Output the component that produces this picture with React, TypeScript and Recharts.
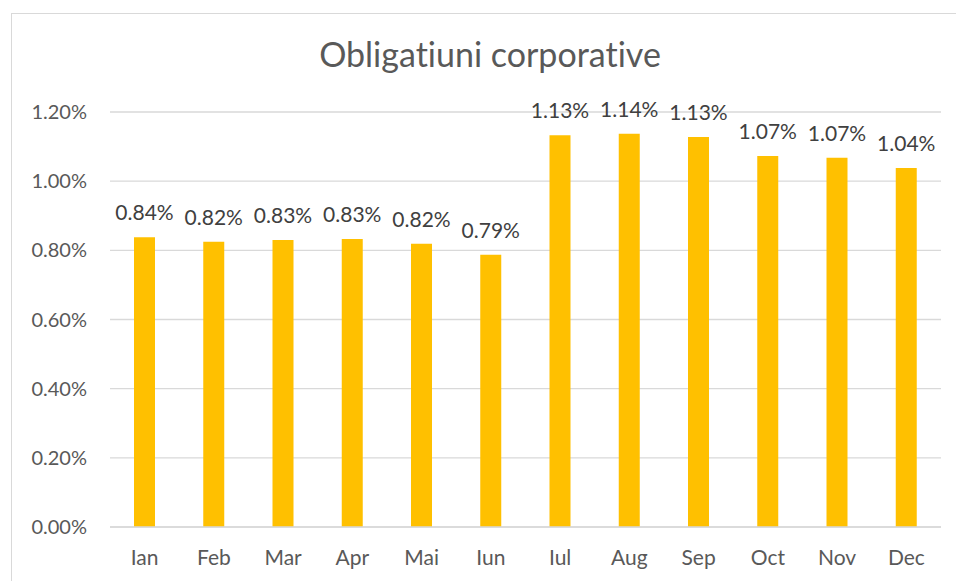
import React from "react";
import { BarChart, Bar, XAxis, YAxis, CartesianGrid, LabelList } from "recharts";

const months = ["Ian", "Feb", "Mar", "Apr", "Mai", "Iun", "Iul", "Aug", "Sep", "Oct", "Nov", "Dec"];
const values = [0.838, 0.825, 0.83, 0.833, 0.819, 0.787, 1.133, 1.137, 1.128, 1.073, 1.068, 1.038];
const labels = ["0.84%", "0.82%", "0.83%", "0.83%", "0.82%", "0.79%", "1.13%", "1.14%", "1.13%", "1.07%", "1.07%", "1.04%"];
const yTicks = [0, 0.2, 0.4, 0.6, 0.8, 1.0, 1.2];
const title = "Obligatiuni corporative";

const data = months.map((m, i) => ({ month: m, value: values[i], label: labels[i] }));

const FONT = "Lato, 'Open Sans', sans-serif";

export default function App() {
  return (
    <div
      style={{
        position: "absolute",
        left: 0,
        top: 0,
        width: 956,
        height: 581,
        background: "#fff",
        fontFamily: FONT,
        overflow: "hidden",
        fontVariantLigatures: "none",
      }}
    >
      <div style={{ position: "absolute", left: 11, top: 13, width: 960, height: 600, border: "1px solid #d9d9d9", boxSizing: "border-box" }} />
      <svg width={956} height={100} style={{ position: "absolute", left: 0, top: 0 }}>
        <text x={490} y={67} textAnchor="middle" fontSize={34} fill="#595959" fontFamily={FONT} style={{ fontVariantLigatures: "none" }}>
          {title}
        </text>
      </svg>
      <div style={{ position: "absolute", left: 0, top: 0 }}>
        <BarChart width={956} height={581} data={data} margin={{ top: 112, right: 15, bottom: 24, left: 0 }} barSize={21}>
          <CartesianGrid vertical={false} stroke="#d9d9d9" strokeWidth={1.3} />
          <XAxis
            dataKey="month"
            tickLine={false}
            axisLine={{ stroke: "#d9d9d9", strokeWidth: 1.3 }}
            tick={{ fill: "#595959", fontSize: 21, fontFamily: FONT }}
            tickMargin={17}
            height={30}
          />
          <YAxis
            width={110}
            domain={[0, 1.2]}
            ticks={yTicks}
            interval={0}
            tickFormatter={(v: number) => v.toFixed(2) + "%"}
            tickLine={false}
            axisLine={false}
            tick={{ fill: "#595959", fontSize: 20, fontFamily: FONT }}
            tickMargin={17}
          />
          <Bar dataKey="value" fill="#ffc000" isAnimationActive={false}>
            <LabelList dataKey="label" position="top" offset={17} fill="#404040" fontSize={21} fontFamily={FONT} />
          </Bar>
        </BarChart>
      </div>
    </div>
  );
}
